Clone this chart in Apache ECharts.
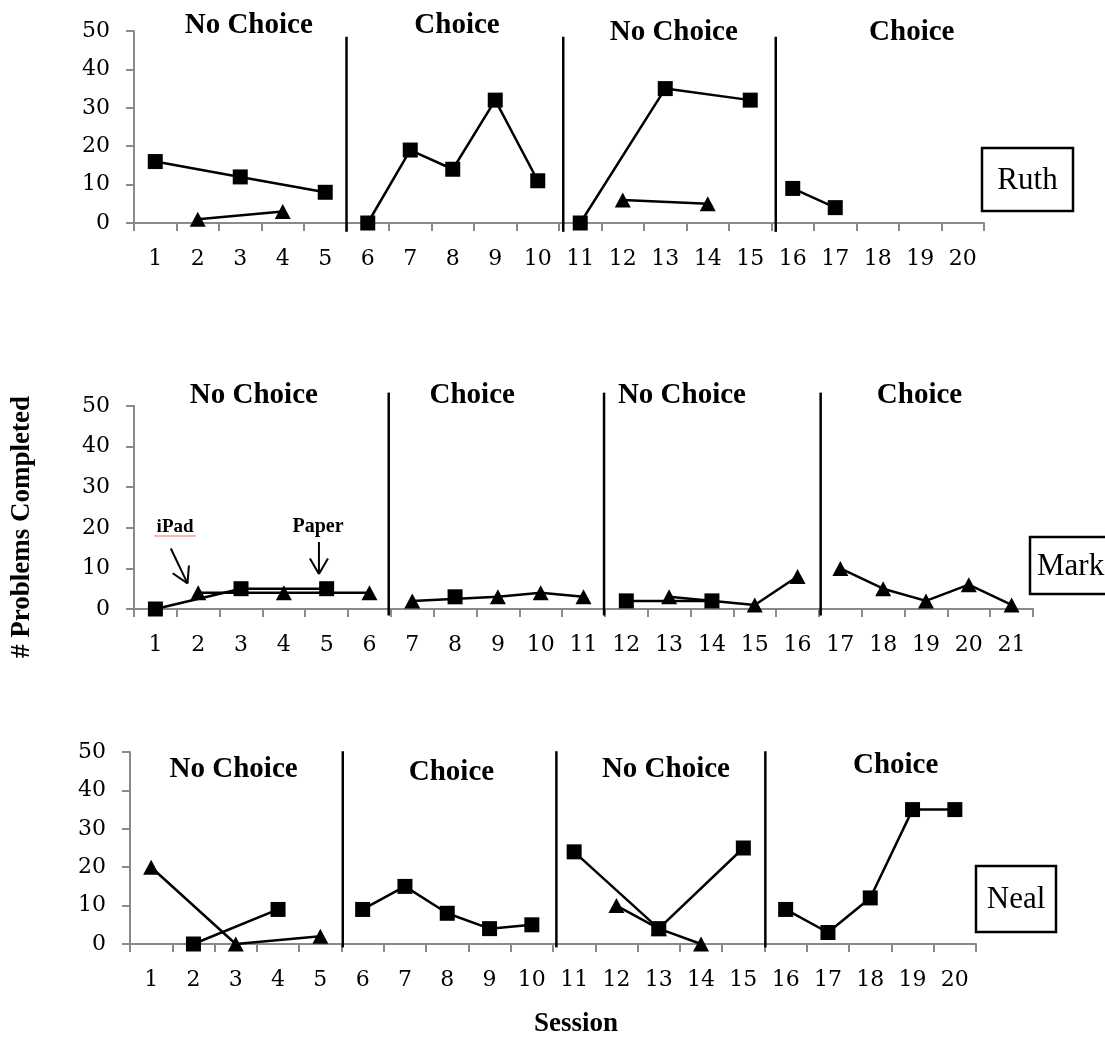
<!DOCTYPE html>
<html>
<head>
<meta charset="UTF-8">
<title># Problems Completed</title>
<script src="https://cdn.jsdelivr.net/npm/echarts@6/dist/echarts.min.js"></script>
<style>
  html, body { margin: 0; padding: 0; background: #fff; }
</style>
</head>
<body>
<div id="main" style="width:1105px;height:1039px;"></div>
<script>
// ---- data ----
var ruthSessions = ['1','2','3','4','5','6','7','8','9','10','11','12','13','14','15','16','17','18','19','20'];
var ruthSquare   = [16,null,12,null,8, 0,19,14,32,11, 0,null,35,null,32, 9,4,null,null,null];
var ruthTriangle = [null,1,null,3,null, null,null,null,null,null, null,6,null,5,null, null,null,null,null,null];
var ruthPhaseEnds = [5, 10, 15, 20];
var ruthPhaseLines = [5, 10.1, 15.1];
var ruthPhaseNames = ['No Choice', 'Choice', 'No Choice', 'Choice'];
var ruthLabelX = [3.2, 8.1, 13.2, 18.8];
var ruthLabelY = [51.3, 51.3, 49.5, 49.5];

var markSessions = ['1','2','3','4','5','6','7','8','9','10','11','12','13','14','15','16','17','18','19','20','21'];
var markSquare   = [0,null,5,null,5,null, null,3,null,null,null, 2,null,2,null,null, null,null,null,null,null];
var markTriangle = [null,4,null,4,null,4, 2,null,3,4,3, null,3,null,1,8, 10,5,2,6,1];
var markPhaseEnds = [6, 11, 16, 21];
var markPhaseLines = [5.95, 10.98, 16.04];
var markPhaseNames = ['No Choice', 'Choice', 'No Choice', 'Choice'];
var markLabelX = [3.3, 8.4, 13.3, 18.85];
var markLabelY = [52.7, 52.7, 52.7, 52.7];

var nealSessions = ['1','2','3','4','5','6','7','8','9','10','11','12','13','14','15','16','17','18','19','20'];
var nealSquare   = [null,0,null,9,null, 9,15,8,4,5, 24,null,4,null,25, 9,3,12,35,35];
var nealTriangle = [20,null,0,null,2, null,null,null,null,null, null,10,4,0,null, null,null,null,null,null];
var nealPhaseEnds = [5, 10, 15, 20];
var nealPhaseLines = [5.03, 10.08, 15.02];
var nealPhaseNames = ['No Choice', 'Choice', 'No Choice', 'Choice'];
var nealLabelX = [2.95, 8.1, 13.17, 18.6];
var nealLabelY = [45.4, 44.7, 45.4, 46.4];

// ---- layout (pixels) ----
var panels = [
  { name: 'Ruth', sessions: ruthSessions, square: ruthSquare, triangle: ruthTriangle,
    phaseEnds: ruthPhaseEnds, phaseLines: ruthPhaseLines, phaseNames: ruthPhaseNames,
    labelX: ruthLabelX, labelY: ruthLabelY, lineTop: 48.5, lineBottom: -2.3,
    grid: { left: 134, top: 31, width: 850, height: 192 },
    box: { x: 982, y: 148, w: 91, h: 63 } },
  { name: 'Mark', sessions: markSessions, square: markSquare, triangle: markTriangle,
    phaseEnds: markPhaseEnds, phaseLines: markPhaseLines, phaseNames: markPhaseNames,
    labelX: markLabelX, labelY: markLabelY, lineTop: 53.3, lineBottom: -1.6,
    grid: { left: 134, top: 406, width: 899, height: 203 },
    box: { x: 1030, y: 537, w: 90, h: 57, left: true } },
  { name: 'Neal', sessions: nealSessions, square: nealSquare, triangle: nealTriangle,
    phaseEnds: nealPhaseEnds, phaseLines: nealPhaseLines, phaseNames: nealPhaseNames,
    labelX: nealLabelX, labelY: nealLabelY, lineTop: 50.2, lineBottom: -0.9,
    grid: { left: 130, top: 752, width: 846, height: 192 },
    box: { x: 976, y: 866, w: 80, h: 66 } }
];

var axisGray = '#8a8a8a';
var tickFont = 'DejaVu Serif';

function phaseSlice(values, start, end) {
  return values.map(function (v, i) { return (i >= start && i < end) ? v : null; });
}

var grids = [], xAxes = [], yAxes = [], series = [];
panels.forEach(function (p, k) {
  grids.push(p.grid);
  xAxes.push({
    type: 'category', gridIndex: k, data: p.sessions, boundaryGap: true,
    axisLine: { lineStyle: { color: axisGray, width: 2 } },
    axisTick: { show: true, length: 8, interval: 0, lineStyle: { color: axisGray, width: 2 } },
    axisLabel: { interval: 0, margin: 25, color: '#000', fontFamily: tickFont, fontSize: 22 }
  });
  yAxes.push({
    type: 'value', gridIndex: k, min: 0, max: 50, interval: 10,
    axisLine: { show: true, lineStyle: { color: axisGray, width: 2 } },
    axisTick: { show: true, length: 8, lineStyle: { color: axisGray, width: 2 } },
    axisLabel: { margin: 24, color: '#000', fontFamily: tickFont, fontSize: 22 },
    splitLine: { show: false }
  });
  var start = 0;
  p.phaseEnds.forEach(function (end) {
    series.push({
      type: 'line', xAxisIndex: k, yAxisIndex: k, connectNulls: true,
      data: phaseSlice(p.triangle, start, end),
      symbol: 'triangle', symbolSize: [16, 15], showAllSymbol: true,
      lineStyle: { color: '#000', width: 2.5 }, itemStyle: { color: '#000' }, z: 3
    });
    series.push({
      type: 'line', xAxisIndex: k, yAxisIndex: k, connectNulls: true,
      data: phaseSlice(p.square, start, end),
      symbol: 'rect', symbolSize: 15, showAllSymbol: true,
      lineStyle: { color: '#000', width: 2.5 }, itemStyle: { color: '#000' }, z: 4
    });
    start = end;
  });
});

var chart = echarts.init(document.getElementById('main'));
chart.setOption({
  animation: false,
  backgroundColor: '#fff',
  grid: grids,
  xAxis: xAxes,
  yAxis: yAxes,
  series: series
});

// session position (1-based, may be fractional) -> pixel
function toPx(k, s, val) {
  var a = chart.convertToPixel({ gridIndex: k }, [0, val]);
  var b = chart.convertToPixel({ gridIndex: k }, [1, val]);
  return [a[0] + (s - 1) * (b[0] - a[0]), a[1]];
}

var serif = '"Liberation Serif", "Times New Roman", serif';
var graphics = [];
panels.forEach(function (p, k) {
  // phase change lines
  p.phaseLines.forEach(function (b) {
    var t = toPx(k, b + 0.5, p.lineTop);
    var u = toPx(k, b + 0.5, p.lineBottom);
    graphics.push({ type: 'line', z: 10, shape: { x1: t[0], y1: t[1], x2: u[0], y2: u[1] },
      style: { stroke: '#000', lineWidth: 2.5 } });
  });
  // phase names
  p.phaseNames.forEach(function (n, i) {
    var c = toPx(k, p.labelX[i], p.labelY[i]);
    graphics.push({ type: 'text', z: 10, x: c[0], y: c[1],
      style: { text: n, fill: '#000', font: 'bold 29px ' + serif, align: 'center', verticalAlign: 'middle' } });
  });
  // participant box
  graphics.push({ type: 'rect', z: 10, shape: { x: p.box.x, y: p.box.y, width: p.box.w, height: p.box.h },
    style: { fill: '#fff', stroke: '#000', lineWidth: 2.5 } });
  graphics.push({ type: 'text', z: 11,
    x: p.box.left ? p.box.x + 7 : p.box.x + p.box.w / 2, y: p.box.y + p.box.h / 2 + 1,
    style: { text: p.name, fill: '#000', font: '31px ' + serif,
      align: p.box.left ? 'left' : 'center', verticalAlign: 'middle' } });
});

// iPad / Paper notes on Mark's panel
function arrow(k, from, to) {
  var a = toPx(k, from[0], from[1]);
  var b = toPx(k, to[0], to[1]);
  var ang = Math.atan2(a[1] - b[1], a[0] - b[0]);
  var len = 18, spread = Math.PI / 6;
  graphics.push({ type: 'line', z: 10, shape: { x1: a[0], y1: a[1], x2: b[0], y2: b[1] }, style: { stroke: '#000', lineWidth: 2 } });
  [-spread, spread].forEach(function (d) {
    graphics.push({ type: 'line', z: 10,
      shape: { x1: b[0], y1: b[1], x2: b[0] + len * Math.cos(ang + d), y2: b[1] + len * Math.sin(ang + d) },
      style: { stroke: '#000', lineWidth: 2 } });
  });
}
var ipad = toPx(1, 1.46, 20.2);
graphics.push({ type: 'text', z: 10, x: ipad[0], y: ipad[1],
  style: { text: 'iPad', fill: '#000', font: 'bold 19px ' + serif, align: 'center', verticalAlign: 'middle' } });
graphics.push({ type: 'line', z: 10, shape: { x1: ipad[0] - 21, y1: ipad[1] + 9, x2: ipad[0] + 21, y2: ipad[1] + 9 },
  style: { stroke: '#f07070', lineWidth: 1 } });
arrow(1, [1.36, 14.9], [1.75, 6.3]);
var paper = toPx(1, 4.8, 20.3);
graphics.push({ type: 'text', z: 10, x: paper[0], y: paper[1],
  style: { text: 'Paper', fill: '#000', font: 'bold 20px ' + serif, align: 'center', verticalAlign: 'middle' } });
arrow(1, [4.82, 16.5], [4.82, 8.6]);

// axis titles
graphics.push({ type: 'text', z: 10, x: 22, y: 527, rotation: Math.PI / 2,
  style: { text: '# Problems Completed', fill: '#000', font: 'bold 27px ' + serif, align: 'center', verticalAlign: 'middle' } });
graphics.push({ type: 'text', z: 10, x: 576, y: 1024,
  style: { text: 'Session', fill: '#000', font: 'bold 27px ' + serif, align: 'center', verticalAlign: 'middle' } });

chart.setOption({ graphic: graphics });
</script>
</body>
</html>
